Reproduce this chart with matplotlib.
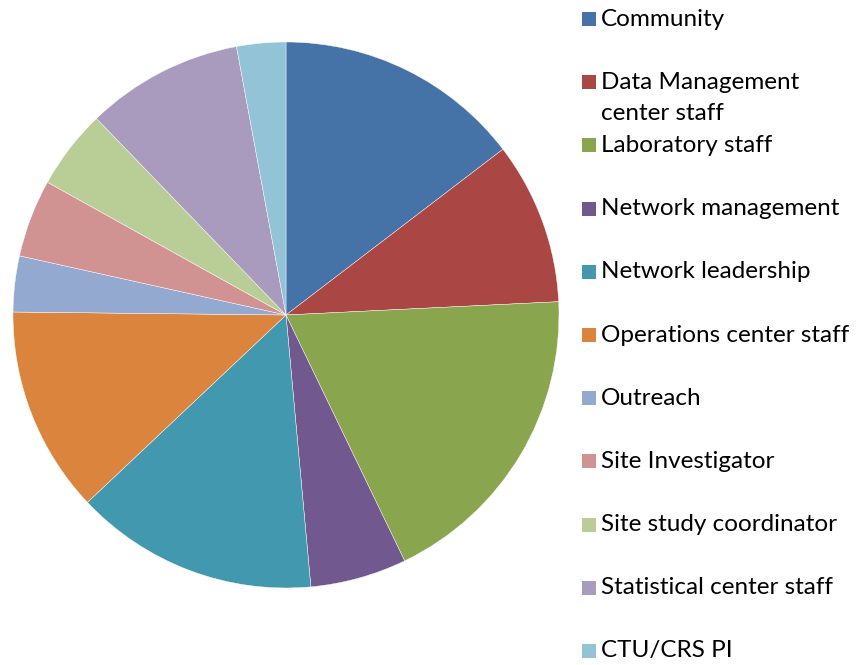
import matplotlib.pyplot as plt
from matplotlib.patches import Rectangle

labels = [
    "Community",
    "Data Management\ncenter staff",
    "Laboratory staff",
    "Network management",
    "Network leadership",
    "Operations center staff",
    "Outreach",
    "Site Investigator",
    "Site study coordinator",
    "Statistical center staff",
    "CTU/CRS PI",
]
shares = [14.6, 9.6, 18.6, 5.7, 14.4, 12.2, 3.3, 4.6, 4.7, 9.3, 2.9]
colors = ["#4572A7", "#AA4643", "#89A54E", "#71588F", "#4198AF", "#DB843D",
          "#93A9CF", "#D19392", "#B9CD96", "#A99BBD", "#92C3D6"]

W, H = 857, 665
plt.rcParams['font.family'] = ['Lato', 'DejaVu Sans']
fig = plt.figure(figsize=(W / 100, H / 100), dpi=100)

cx, cy, r = 286, 315, 273
ax = fig.add_axes([(cx - r) / W, (H - cy - r) / H, 2 * r / W, 2 * r / H])
ax.pie(shares, colors=colors, startangle=90, counterclock=False, radius=1,
       wedgeprops=dict(edgecolor="white", linewidth=0.3))
ax.set_xlim(-1, 1)
ax.set_ylim(-1, 1)
ax.set_aspect("equal")
ax.axis("off")

# legend drawn by hand to match the spreadsheet layout
top, step = 19, 63.2
for i, (lab, col) in enumerate(zip(labels, colors)):
    y = top + i * step
    fig.patches.append(Rectangle((582 / W, (H - y - 7) / H), 14 / W, 14 / H,
                                 transform=fig.transFigure, facecolor=col,
                                 edgecolor="none"))
    first, *rest = lab.split("\n")
    fig.text(601 / W, (H - y) / H, first, fontsize=17.5, va="center", ha="left")
    for k, line in enumerate(rest, start=1):
        fig.text(601 / W, (H - y - 31 * k) / H, line, fontsize=17.5,
                 va="center", ha="left")

fig.savefig("out.png", dpi=100)
